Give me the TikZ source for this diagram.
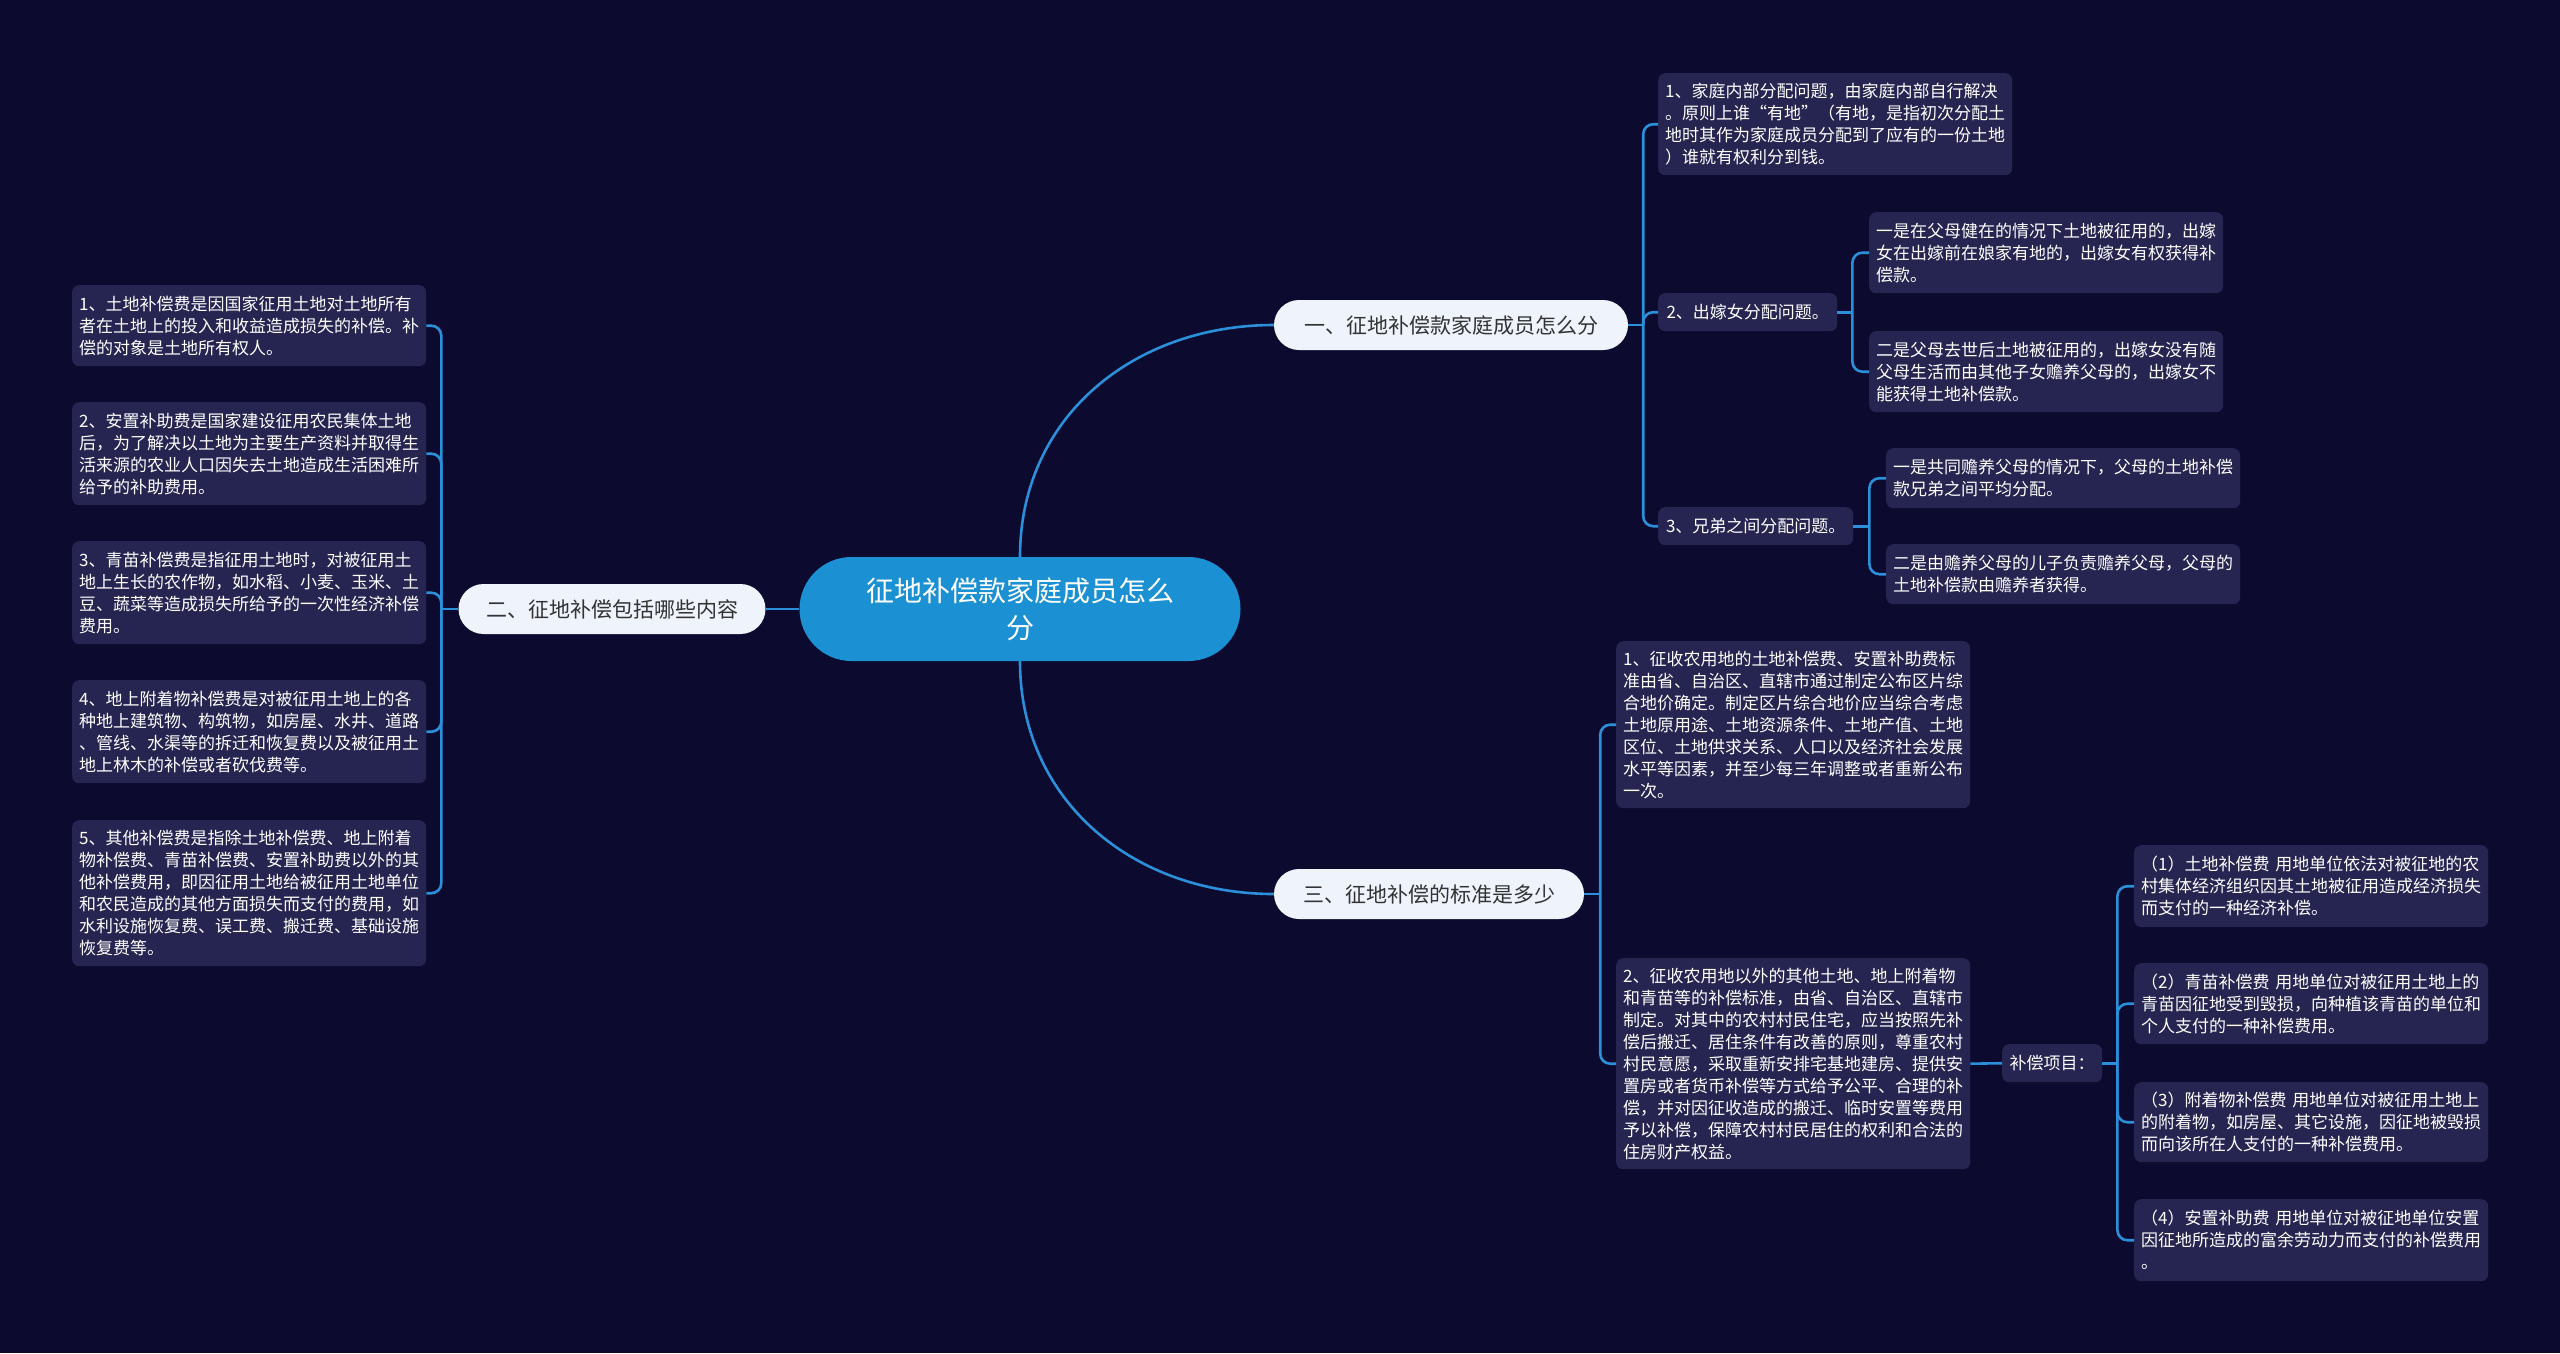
\documentclass[tikz,border=0pt]{standalone}
\usepackage{fontspec}
\setmainfont{Noto Sans CJK SC}
\usetikzlibrary{calc}
\definecolor{bg}{RGB}{12,10,46}
\definecolor{leaffill}{RGB}{38,36,80}
\definecolor{conncol}{RGB}{43,143,217}
\definecolor{rootfill}{RGB}{27,144,210}
\definecolor{brfill}{RGB}{239,243,252}
\definecolor{brtext}{RGB}{51,51,51}
\begin{document}
\begin{tikzpicture}[x=1pt,y=-1pt,
 leaf/.style={anchor=north west, fill=leaffill, rounded corners=7pt, text=white, font=\fontsize{17}{22}\selectfont, align=left, text width=340pt, inner xsep=7pt, inner ysep=0pt},
 smallleaf/.style={anchor=north west, fill=leaffill, rounded corners=7pt, text=white, font=\fontsize{17}{22}\selectfont, inner sep=0pt},
 branch/.style={fill=brfill, text=brtext, rounded corners=25pt, font=\fontsize{21}{25}\selectfont, inner sep=0pt, minimum height=50pt},
 conn/.style={draw=conncol, line width=2.6pt},
 bracket/.style={conn, rounded corners=10pt}]
\fill[bg] (0,0) rectangle (2560,1353);
\useasboundingbox (0,0) rectangle (2560,1353);

% root and branches
\node[fill=rootfill, text=white, rounded corners=52pt, minimum width=441pt, minimum height=104pt, inner sep=0pt, align=center, font=\fontsize{28}{37}\selectfont] (root) at (1020,609) {征地补偿款家庭成员怎么\\分};
\node[branch, minimum width=354pt] (b1) at (1451,325) {一、征地补偿款家庭成员怎么分};
\node[branch, minimum width=307pt] (b2) at (612,609) {二、征地补偿包括哪些内容};
\node[branch, minimum width=310pt] (b3) at (1429,894) {三、征地补偿的标准是多少};

% left leaves
\node[leaf, minimum height=81pt] (l1) at (72,285) {1、土地补偿费是因国家征用土地对土地所有\\者在土地上的投入和收益造成损失的补偿。补\\偿的对象是土地所有权人。};
\node[leaf, minimum height=103pt] (l2) at (72,402) {2、安置补助费是国家建设征用农民集体土地\\后，为了解决以土地为主要生产资料并取得生\\活来源的农业人口因失去土地造成生活困难所\\给予的补助费用。};
\node[leaf, minimum height=103pt] (l3) at (72,541) {3、青苗补偿费是指征用土地时，对被征用土\\地上生长的农作物，如水稻、小麦、玉米、土\\豆、蔬菜等造成损失所给予的一次性经济补偿\\费用。};
\node[leaf, minimum height=103pt] (l4) at (72,680) {4、地上附着物补偿费是对被征用土地上的各\\种地上建筑物、构筑物，如房屋、水井、道路\\、管线、水渠等的拆迁和恢复费以及被征用土\\地上林木的补偿或者砍伐费等。};
\node[leaf, minimum height=146pt] (l5) at (72,820) {5、其他补偿费是指除土地补偿费、地上附着\\物补偿费、青苗补偿费、安置补助费以外的其\\他补偿费用，即因征用土地给被征用土地单位\\和农民造成的其他方面损失而支付的费用，如\\水利设施恢复费、误工费、搬迁费、基础设施\\恢复费等。};

% branch one children
\node[leaf, minimum height=102pt] (a1) at (1658,73) {1、家庭内部分配问题，由家庭内部自行解决\\。原则上谁“有地”（有地，是指初次分配土\\地时其作为家庭成员分配到了应有的一份土地\\）谁就有权利分到钱。};
\node[smallleaf, minimum width=179pt, minimum height=38pt] (a2) at (1658,293) {2、出嫁女分配问题。};
\node[leaf, minimum height=81pt] (a2a) at (1869,212) {一是在父母健在的情况下土地被征用的，出嫁\\女在出嫁前在娘家有地的，出嫁女有权获得补\\偿款。};
\node[leaf, minimum height=81pt] (a2b) at (1869,331) {二是父母去世后土地被征用的，出嫁女没有随\\父母生活而由其他子女赡养父母的，出嫁女不\\能获得土地补偿款。};
\node[smallleaf, minimum width=195pt, minimum height=38pt] (a3) at (1658,507) {3、兄弟之间分配问题。};
\node[leaf, minimum height=60pt] (a3a) at (1886,448) {一是共同赡养父母的情况下，父母的土地补偿\\款兄弟之间平均分配。};
\node[leaf, minimum height=60pt] (a3b) at (1886,544) {二是由赡养父母的儿子负责赡养父母，父母的\\土地补偿款由赡养者获得。};

% branch three children
\node[leaf, minimum height=167pt] (c1) at (1616,641) {1、征收农用地的土地补偿费、安置补助费标\\准由省、自治区、直辖市通过制定公布区片综\\合地价确定。制定区片综合地价应当综合考虑\\土地原用途、土地资源条件、土地产值、土地\\区位、土地供求关系、人口以及经济社会发展\\水平等因素，并至少每三年调整或者重新公布\\一次。};
\node[leaf, minimum height=211pt] (c2) at (1616,958) {2、征收农用地以外的其他土地、地上附着物\\和青苗等的补偿标准，由省、自治区、直辖市\\制定。对其中的农村村民住宅，应当按照先补\\偿后搬迁、居住条件有改善的原则，尊重农村\\村民意愿，采取重新安排宅基地建房、提供安\\置房或者货币补偿等方式给予公平、合理的补\\偿，并对因征收造成的搬迁、临时安置等费用\\予以补偿，保障农村村民居住的权利和合法的\\住房财产权益。};
\node[smallleaf, minimum width=100pt, minimum height=38pt] (cx) at (2002,1044) {补偿项目：};
\node[leaf, minimum height=82pt] (d1) at (2134,845) {（1）土地补偿费 用地单位依法对被征地的农\\村集体经济组织因其土地被征用造成经济损失\\而支付的一种经济补偿。};
\node[leaf, minimum height=81pt] (d2) at (2134,963) {（2）青苗补偿费 用地单位对被征用土地上的\\青苗因征地受到毁损，向种植该青苗的单位和\\个人支付的一种补偿费用。};
\node[leaf, minimum height=80pt] (d3) at (2134,1082) {（3）附着物补偿费 用地单位对被征用土地上\\的附着物，如房屋、其它设施，因征地被毁损\\而向该所在人支付的一种补偿费用。};
\node[leaf, minimum height=82pt] (d4) at (2134,1199) {（4）安置补助费 用地单位对被征地单位安置\\因征地所造成的富余劳动力而支付的补偿费用\\。};

% main connectors
\draw[conn] (root.north) .. controls ($(root.north)+(0,-140)$) and ($(b1.west)+(-140,0)$) .. (b1.west);
\draw[conn] (root.south) .. controls ($(root.south)+(0,140)$) and ($(b3.west)+(-140,0)$) .. (b3.west);
\draw[conn] (root.west) -- (b2.east);

% spine coordinates
\coordinate (s1) at ($(b1.east)+(15,0)$);
\coordinate (s2) at ($(b2.west)+(-17,0)$);
\coordinate (s3) at ($(b3.east)+(16,0)$);
\coordinate (sa2) at ($(a2.east)+(15,0)$);
\coordinate (sa3) at ($(a3.east)+(16,0)$);
\coordinate (scx) at ($(cx.east)+(15,0)$);

\draw[conn] (b1.east) -- (s1);
\draw[bracket] (s1) |- (a1.west);
\draw[bracket] (s1) |- (a2.west);
\draw[bracket] (s1) |- (a3.west);

\draw[conn] (b2.west) -- (s2);
\draw[bracket] (s2) |- (l1.east);
\draw[bracket] (s2) |- (l2.east);
\draw[bracket] (s2) |- (l3.east);
\draw[bracket] (s2) |- (l4.east);
\draw[bracket] (s2) |- (l5.east);

\draw[conn] (b3.east) -- (s3);
\draw[bracket] (s3) |- (c1.west);
\draw[bracket] (s3) |- (c2.west);

\draw[conn] (a2.east) -- (sa2);
\draw[bracket] (sa2) |- (a2a.west);
\draw[bracket] (sa2) |- (a2b.west);

\draw[conn] (a3.east) -- (sa3);
\draw[bracket] (sa3) |- (a3a.west);
\draw[bracket] (sa3) |- (a3b.west);

\draw[conn] (c2.east) -- (cx.west);
\draw[conn] (cx.east) -- (scx);
\draw[bracket] (scx) |- (d1.west);
\draw[bracket] (scx) |- (d2.west);
\draw[bracket] (scx) |- (d3.west);
\draw[bracket] (scx) |- (d4.west);
\end{tikzpicture}
\end{document}
